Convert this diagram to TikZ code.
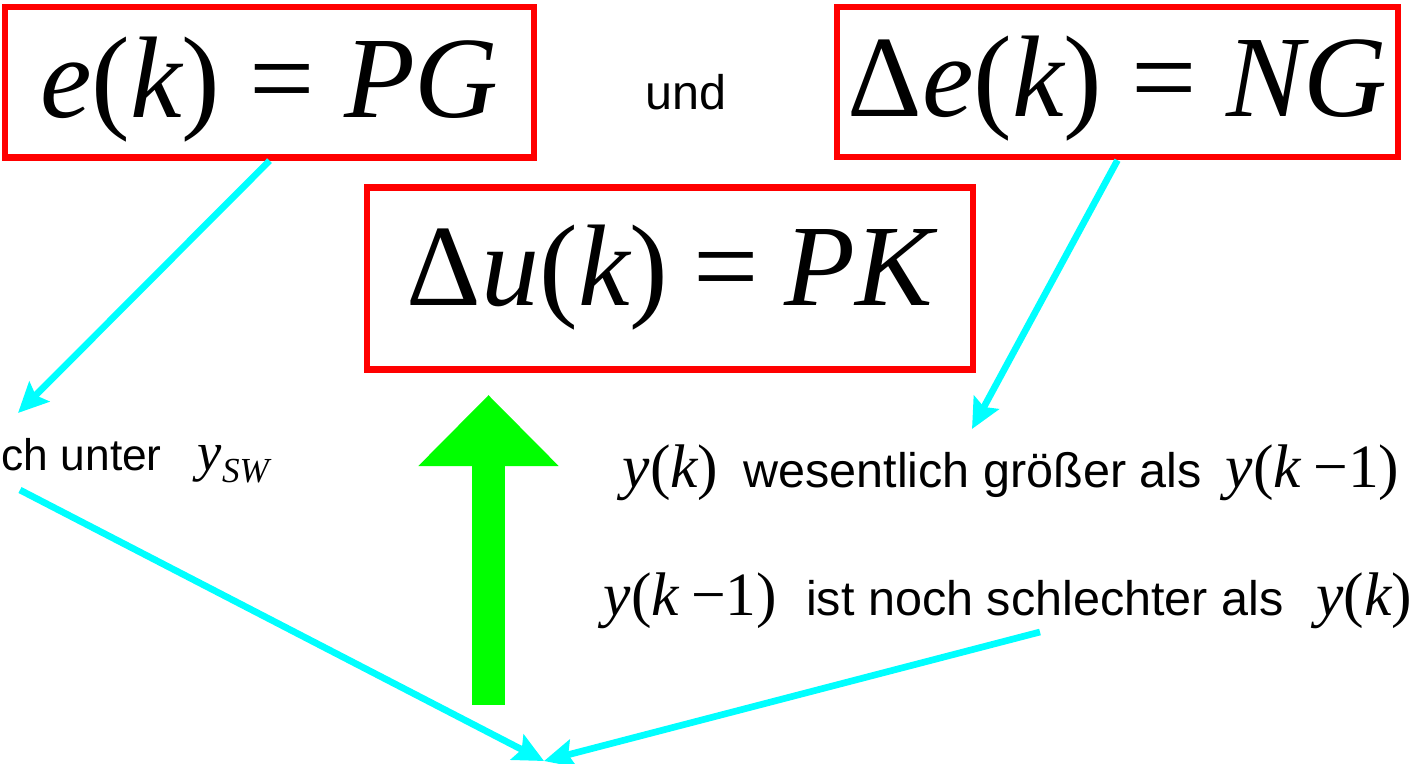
\documentclass[tikz,border=0pt]{standalone}
\usepackage{fontspec}
\setmainfont{Liberation Sans}
\newfontfamily\tms{Liberation Serif}
\usepackage{xcolor}
\usetikzlibrary{arrows.meta,positioning}
\definecolor{boxred}{RGB}{255,0,0}
\definecolor{linkcyan}{RGB}{0,255,255}
\definecolor{upgreen}{RGB}{0,255,0}
\newcommand{\mvar}[1]{{\tms\itshape #1}}
\newcommand{\mup}[1]{{\tms #1}}

\begin{document}
\begin{tikzpicture}[
  x=0.01cm,y=-0.01cm,
  eqbox/.style={draw=boxred,line width=1.8pt,inner sep=0pt,
    font=\fontsize{33}{38}\selectfont,text height=25pt,text depth=5.2pt},
  link/.style={draw=linkcyan,line width=1.9pt,
    -{Stealth[length=3mm,width=2.8mm,inset=0.5mm]}},
  uparrow/.style={draw=upgreen,line width=0.33cm,
    -{Triangle[length=0.71cm,width=1.36cm]}},
  lab/.style={inner sep=0pt,font=\fontsize{13.8}{16}\selectfont}
]
  \useasboundingbox (0,0) rectangle (1418,763);

  % the three rule boxes
  \node[eqbox,minimum width=5.29cm,minimum height=1.505cm] (pg) at (269.5,82.25)
    {\mvar{e}\mup{(}\mvar{k}\mup{)}\hspace{0.25em}\mup{=}\hspace{0.25em}\mvar{PG}};
  \node[eqbox,minimum width=5.61cm,minimum height=1.5cm] (ng) at (1117.5,82)
    {\mup{Δ}\mvar{e}\mup{(}\mvar{k}\mup{)}\hspace{0.25em}\mup{=}\hspace{0.25em}\mvar{NG}};
  \node[eqbox,minimum width=6.05cm,minimum height=1.82cm,
        text height=23pt,text depth=7.4pt] (pk) at (670,278.5)
    {\mup{Δ}\mvar{u}\mup{(}\mvar{k}\mup{)}\hspace{0.22em}\mup{=}\hspace{0.22em}\mvar{PK}};
  \node[lab] (und) at (686,92) {und};

  % conditions
  \node[lab,anchor=base west,font=\fontsize{12.6}{15}\selectfont] (low) at (1,470)
    {ch unter\hspace{0.36cm}{\fontsize{15.5}{18}\selectfont\mvar{y}}\raisebox{-0.12cm}{\fontsize{10}{12}\selectfont\mvar{SW}}};
  \node[lab,anchor=base west] (grow) at (622,487)
    {{\fontsize{17.5}{20}\selectfont\mvar{y}\mup{(}\mvar{k}\mup{)}}\hspace{0.25cm}wesentlich größer als\hspace{0.24cm}{\fontsize{17.5}{20}\selectfont\mvar{y}\mup{(}\mvar{k}\hspace{0.2em}\mup{−1)}}};
  \node[lab,anchor=base west] (worse) at (603,615)
    {{\fontsize{17.5}{20}\selectfont\mvar{y}\mup{(}\mvar{k}\hspace{0.2em}\mup{−1)}}\hspace{0.29cm}ist noch schlechter als\hspace{0.33cm}{\fontsize{17.5}{20}\selectfont\mvar{y}\mup{(}\mvar{k}\mup{)}}};

  \coordinate (lowtip) at (18,413);
  \coordinate (ngtip) at (972,429);
  \coordinate (lowout) at (20,490);
  \coordinate (worseout) at (1040,632);
  \coordinate (meet) at (544,761);
  \coordinate (gbot) at (488.5,705);
  \coordinate (gtop) at (488.5,395);

  \draw[link] (pg.south) -- (lowtip);
  \draw[link] (ng.south) -- (ngtip);
  \draw[link] (lowout) -- (meet);
  \draw[link] (worseout) -- (meet);

  \draw[uparrow] (gbot) -- (gtop);
\end{tikzpicture}
\end{document}
